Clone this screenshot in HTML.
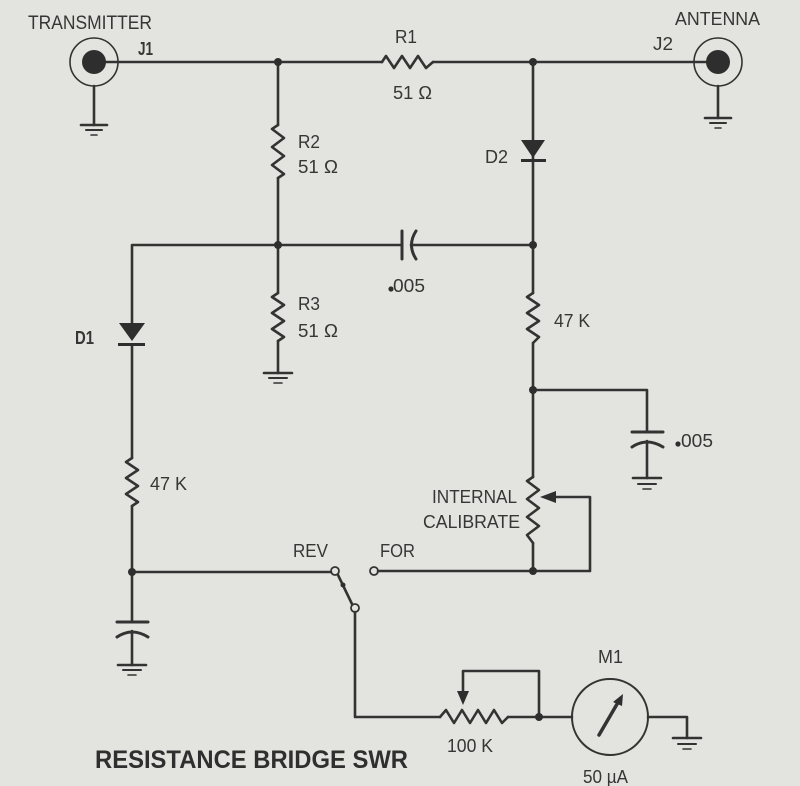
<!DOCTYPE html>
<html><head><meta charset="utf-8"><style>
html,body{margin:0;padding:0;background:#e3e4df;}
svg{display:block;}
text{font-family:"Liberation Sans",sans-serif;fill:#363636;}
</style></head><body>
<svg width="800" height="786" viewBox="0 0 800 786" xmlns="http://www.w3.org/2000/svg">
<rect width="800" height="786" fill="#e3e4df"/>
<g stroke="#333333" stroke-width="2.6" fill="none" stroke-linejoin="round" stroke-linecap="round">
<!-- J1 -->
<circle cx="94" cy="62" r="24" stroke-width="1.6"/>
<line x1="94" y1="86" x2="94" y2="125"/>
<line x1="81" y1="125" x2="107" y2="125"/>
<line x1="86" y1="130" x2="102" y2="130" stroke-width="2"/>
<line x1="91" y1="135" x2="97" y2="135" stroke-width="1.6"/>
<!-- top wire -->
<line x1="104" y1="62" x2="382" y2="62"/>
<polyline points="382,62 386,56 394,68 402,56 410,68 418,56 426,68 433,62"/>
<line x1="433" y1="62" x2="706" y2="62"/>
<!-- J2 -->
<circle cx="718" cy="62" r="24" stroke-width="1.6"/>
<line x1="718" y1="86" x2="718" y2="118"/>
<line x1="705" y1="118" x2="731" y2="118"/>
<line x1="710" y1="123" x2="726" y2="123" stroke-width="2"/>
<line x1="715" y1="128" x2="721" y2="128" stroke-width="1.6"/>
<!-- R2 / R3 branch -->
<line x1="278" y1="62" x2="278" y2="125"/>
<polyline points="278,125 272,129 284,138 272,147 284,156 272,165 284,174 278,178"/>
<line x1="278" y1="178" x2="278" y2="293"/>
<polyline points="278,293 272,297 284,305 272,313 284,321 272,329 284,337 278,341"/>
<line x1="278" y1="341" x2="278" y2="373"/>
<line x1="264" y1="373" x2="292" y2="373"/>
<line x1="269" y1="378" x2="287" y2="378" stroke-width="2"/>
<line x1="274" y1="383" x2="282" y2="383" stroke-width="1.6"/>
<!-- middle horizontal & cap -->
<polyline points="132,330 132,245 402,245"/>
<line x1="402" y1="231" x2="402" y2="259" stroke-width="3"/>
<path d="M416 231 Q407 245 416 259" stroke-width="3"/>
<line x1="411" y1="245" x2="533" y2="245"/>
<!-- right vertical -->
<line x1="533" y1="62" x2="533" y2="293"/>
<polyline points="533,293 527,297 539,305 527,313 539,321 527,329 539,337 533,343"/>
<line x1="533" y1="343" x2="533" y2="477"/>
<polyline points="533,477 527,481 539,490 527,499 539,508 527,517 539,526 527,535 533,543"/>
<line x1="533" y1="543" x2="533" y2="571"/>
<!-- right cap -->
<polyline points="533,390 647,390 647,432"/>
<line x1="632" y1="432" x2="663" y2="432" stroke-width="3"/>
<path d="M632 447 Q647 437 663 447" stroke-width="3"/>
<line x1="647" y1="441" x2="647" y2="478"/>
<line x1="633" y1="478" x2="661" y2="478"/>
<line x1="638" y1="484" x2="656" y2="484" stroke-width="2"/>
<line x1="643" y1="489" x2="651" y2="489" stroke-width="1.6"/>
<!-- internal calibrate wiper -->
<polyline points="555,497 590,497 590,571 533,571"/>
<!-- FOR wire -->
<line x1="378" y1="571" x2="533" y2="571"/>
<!-- left branch -->
<line x1="132" y1="345" x2="132" y2="458"/>
<polyline points="132,458 126,462 138,470 126,478 138,486 126,494 138,502 132,506"/>
<line x1="132" y1="506" x2="132" y2="622"/>
<line x1="132" y1="572" x2="331" y2="572"/>
<line x1="117" y1="622" x2="148" y2="622" stroke-width="3"/>
<path d="M117 637 Q132 627 148 637" stroke-width="3"/>
<line x1="132" y1="631" x2="132" y2="665"/>
<line x1="118" y1="665" x2="146" y2="665"/>
<line x1="123" y1="670" x2="141" y2="670" stroke-width="2"/>
<line x1="128" y1="675" x2="136" y2="675" stroke-width="1.6"/>
<!-- switch -->
<circle cx="335" cy="571" r="4" stroke-width="1.8"/>
<circle cx="374" cy="571" r="4" stroke-width="1.8"/>
<circle cx="355" cy="608" r="4" stroke-width="1.8"/>
<line x1="338" y1="575" x2="352" y2="604"/>
<polyline points="355,612 355,717 440,717"/>
<!-- 100K pot -->
<polyline points="440,717 446,710 454,723 462,710 470,723 478,710 486,723 494,710 502,723 508,717"/>
<line x1="508" y1="717" x2="572" y2="717"/>
<polyline points="463,692 463,671 539,671 539,717"/>
<!-- meter -->
<circle cx="610" cy="717" r="38" stroke-width="2"/>
<line x1="599" y1="735" x2="620" y2="699" stroke-width="3.5"/>
<polyline points="648,717 687,717 687,738"/>
<line x1="673" y1="738" x2="701" y2="738"/>
<line x1="678" y1="744" x2="696" y2="744" stroke-width="2"/>
<line x1="683" y1="749" x2="691" y2="749" stroke-width="1.6"/>
</g>
<g fill="#2e2e2e" stroke="none">
<circle cx="94" cy="62" r="12"/>
<circle cx="718" cy="62" r="12"/>
<circle cx="278" cy="62" r="4"/>
<circle cx="533" cy="62" r="4"/>
<circle cx="278" cy="245" r="4"/>
<circle cx="533" cy="245" r="4"/>
<circle cx="533" cy="390" r="4"/>
<circle cx="533" cy="571" r="4"/>
<circle cx="132" cy="572" r="4"/>
<circle cx="539" cy="717" r="4"/>
<circle cx="343" cy="585" r="2.5"/>
<!-- D2 -->
<polygon points="521,140 545,140 533,158"/>
<rect x="521" y="159" width="25" height="3"/>
<!-- D1 -->
<polygon points="119,323 145,323 132,341"/>
<rect x="118" y="343" width="27" height="3"/>
<!-- wiper arrows -->
<polygon points="540,497 556,491 556,503"/>
<polygon points="463,705 457,691 469,691"/>
<polygon points="623,694 613,702 622,706"/>
<!-- .005 dots -->
<circle cx="391" cy="289" r="2.6"/>
<circle cx="678" cy="444" r="2.6"/>
</g>
<g font-size="18">
<text x="28" y="29" textLength="124" lengthAdjust="spacingAndGlyphs" font-size="19">TRANSMITTER</text>
<text x="138" y="55" textLength="15" lengthAdjust="spacingAndGlyphs" font-weight="bold">J1</text>
<text x="395" y="43" textLength="22" lengthAdjust="spacingAndGlyphs">R1</text>
<text x="393" y="99" textLength="39" lengthAdjust="spacingAndGlyphs">51 Ω</text>
<text x="653" y="50" textLength="20" lengthAdjust="spacingAndGlyphs">J2</text>
<text x="675" y="25" textLength="85" lengthAdjust="spacingAndGlyphs">ANTENNA</text>
<text x="298" y="148" textLength="22" lengthAdjust="spacingAndGlyphs">R2</text>
<text x="298" y="173" textLength="40" lengthAdjust="spacingAndGlyphs">51 Ω</text>
<text x="485" y="163" textLength="23" lengthAdjust="spacingAndGlyphs">D2</text>
<text x="393" y="292" textLength="32" lengthAdjust="spacingAndGlyphs">005</text>
<text x="298" y="310" textLength="22" lengthAdjust="spacingAndGlyphs">R3</text>
<text x="298" y="337" textLength="40" lengthAdjust="spacingAndGlyphs">51 Ω</text>
<text x="75" y="344" textLength="19" lengthAdjust="spacingAndGlyphs" font-weight="bold">D1</text>
<text x="554" y="327" textLength="36" lengthAdjust="spacingAndGlyphs">47 K</text>
<text x="150" y="490" textLength="37" lengthAdjust="spacingAndGlyphs">47 K</text>
<text x="681" y="447" textLength="32" lengthAdjust="spacingAndGlyphs">005</text>
<text x="432" y="503" textLength="85" lengthAdjust="spacingAndGlyphs">INTERNAL</text>
<text x="423" y="528" textLength="97" lengthAdjust="spacingAndGlyphs">CALIBRATE</text>
<text x="293" y="557" textLength="35" lengthAdjust="spacingAndGlyphs">REV</text>
<text x="380" y="557" textLength="35" lengthAdjust="spacingAndGlyphs">FOR</text>
<text x="598" y="663" textLength="25" lengthAdjust="spacingAndGlyphs">M1</text>
<text x="447" y="752" textLength="46" lengthAdjust="spacingAndGlyphs" font-family="Liberation Serif, serif">100 K</text>
<text x="583" y="783" textLength="45" lengthAdjust="spacingAndGlyphs">50 µA</text>
<text x="95" y="768" textLength="313" lengthAdjust="spacingAndGlyphs" font-size="25" font-weight="bold" style="fill:#2f2f2f">RESISTANCE BRIDGE SWR</text>
</g>
</svg>
</body></html>
